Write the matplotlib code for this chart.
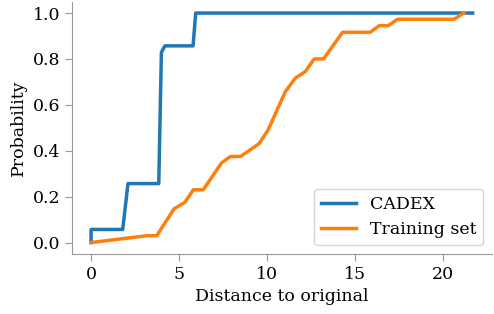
import matplotlib
matplotlib.use('Agg')
import matplotlib.pyplot as plt

# CADEX distances (cumulative share of examples)
cadex_x = [0, 0, 1.8, 2.1, 3.85, 4.0, 4.2, 5.8, 5.95, 21.7]
cadex_y = [0, 0.057, 0.057, 0.257, 0.257, 0.829, 0.857, 0.857, 1.0, 1.0]

# training set distances
train_x = [0, 3.2, 3.74, 4.72, 5.33, 5.82, 6.38, 7.42, 7.93, 8.5, 9.54, 10.05,
           11.05, 11.61, 12.18, 12.69, 13.22, 14.3, 15.86, 16.39, 16.9, 17.43,
           20.64, 21.19]
train_y = [0, 0.03, 0.03, 0.147, 0.175, 0.23, 0.23, 0.347, 0.375, 0.375, 0.43,
           0.488, 0.658, 0.716, 0.745, 0.8, 0.8, 0.916, 0.916, 0.945, 0.945,
           0.973, 0.973, 1.0]

plt.rcParams['font.family'] = 'DejaVu Serif'
plt.rcParams['font.size'] = 12.5

fig = plt.figure(figsize=(4.94, 3.14), dpi=100)
ax = fig.add_axes([0.1457, 0.191, 0.8503, 0.804])

ax.plot(cadex_x, cadex_y, color='#1f77b4', lw=2.5, label='CADEX')
ax.plot(train_x, train_y, color='#ff7f0e', lw=2.5, label='Training set')

ax.set_xlabel('Distance to original')
ax.set_ylabel('Probability')
ax.set_xticks([0, 5, 10, 15, 20])
ax.set_yticks([0, 0.2, 0.4, 0.6, 0.8, 1.0])
ax.set_xlim(-1.085, 22.8)
ax.set_ylim(-0.05, 1.05)

for s in ['top', 'right']:
    ax.spines[s].set_visible(False)
for s in ['left', 'bottom']:
    ax.spines[s].set_color('#999999')
ax.tick_params(color='#999999', length=5)

ax.legend(loc='lower right', fontsize=12.5)

fig.savefig('out.png', dpi=100)
